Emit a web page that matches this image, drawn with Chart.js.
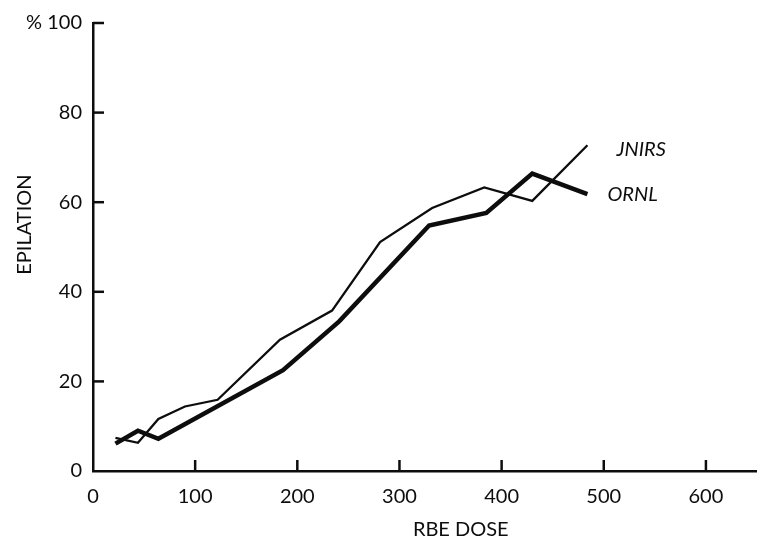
<!DOCTYPE html>
<html>
<head>
<meta charset="utf-8">
<script src="https://cdn.jsdelivr.net/npm/chart.js@4"></script>
<style>
    html, body { margin: 0; padding: 0; background: #fff; }
    #wrap { width: 757px; height: 555px; position: relative; }
</style>
</head>
<body>
<div id="wrap"><canvas id="epilationChart"></canvas></div>
<script>
// values (RBE dose vs % epilation)
const jnirsDose = [22, 44, 64, 90, 122, 183, 234, 281, 332, 383, 430, 484];
const jnirsPct  = [7.4, 6.3, 11.6, 14.4, 15.9, 29.3, 35.8, 51.1, 58.7, 63.3, 60.3, 72.7];

const ornlDose = [22, 44, 64, 186, 241, 329, 385, 430, 484];
const ornlPct  = [6.1, 9.0, 7.2, 22.5, 33.4, 54.8, 57.6, 66.4, 61.8];

const xTicks = [0, 100, 200, 300, 400, 500, 600];
const yTicks = [0, 20, 40, 60, 80, 100];

const ink = "#0d0d0d";
const fontFamily = "Lato, 'Open Sans', sans-serif";

function toPoints(xs, ys) {
    return xs.map((x, i) => ({ x: x, y: ys[i] }));
}

// tick marks point inward from the axes, like the printed figure
const innerTicks = {
    id: "innerTicks",
    afterDraw(chart) {
        const ctx = chart.ctx;
        const area = chart.chartArea;
        const xs = chart.scales.x, ys = chart.scales.y;
        ctx.save();
        ctx.strokeStyle = ink;
        ctx.lineWidth = 2.5;
        xTicks.forEach(v => {
            if (v === 0) return;
            let px = xs.getPixelForValue(v);
            ctx.beginPath();
            ctx.moveTo(px, area.bottom);
            ctx.lineTo(px, area.bottom - 11);
            ctx.stroke();
        });
        yTicks.forEach(v => {
            if (v === 0) return;
            let py = ys.getPixelForValue(v);
            ctx.beginPath();
            ctx.moveTo(area.left, py);
            ctx.lineTo(area.left + 11, py);
            ctx.stroke();
        });
        ctx.restore();
    }
};

// series names written at the end of each curve, plus axis titles
const labelOffsets = { JNIRS: [29, 4], ORNL: [20, 0] };

const textLabels = {
    id: "textLabels",
    afterDatasetsDraw(chart) {
        const ctx = chart.ctx;
        const xs = chart.scales.x, ys = chart.scales.y;
        ctx.save();
        ctx.fillStyle = ink;
        ctx.textBaseline = "middle";

        ctx.font = "italic 20px " + fontFamily;
        ctx.textAlign = "left";
        chart.data.datasets.forEach((ds, i) => {
            let pts = chart.getDatasetMeta(i).data;
            let last = pts[pts.length - 1];
            let off = labelOffsets[ds.label];
            ctx.fillText(ds.label, last.x + off[0], last.y + off[1]);
        });

        ctx.font = "20px " + fontFamily;
        ctx.textAlign = "center";
        ctx.fillText("RBE DOSE", xs.getPixelForValue(360), 530);

        ctx.translate(25, ys.getPixelForValue(55));
        ctx.rotate(-Math.PI / 2);
        ctx.fillText("EPILATION", 0, 0);
        ctx.restore();
    }
};

new Chart(document.getElementById("epilationChart"), {
    type: "line",
    data: {
        datasets: [
            {
                label: "JNIRS",
                data: toPoints(jnirsDose, jnirsPct),
                borderColor: ink,
                borderWidth: 2.3,
                pointRadius: 0,
                tension: 0,
                fill: false
            },
            {
                label: "ORNL",
                data: toPoints(ornlDose, ornlPct),
                borderColor: ink,
                borderWidth: 4.5,
                pointRadius: 0,
                tension: 0,
                fill: false
            }
        ]
    },
    options: {
        responsive: true,
        maintainAspectRatio: false,
        animation: false,
        layout: { padding: { top: 13, right: 0, bottom: 0, left: 0 } },
        plugins: {
            legend: { display: false },
            tooltip: { enabled: false }
        },
        scales: {
            x: {
                type: "linear",
                min: 0,
                max: 650,
                grid: { display: true, drawOnChartArea: false, drawTicks: false },
                border: { color: ink, width: 2.5 },
                ticks: {
                    stepSize: 100,
                    includeBounds: false,
                    color: ink,
                    padding: 14,
                    font: { family: fontFamily, size: 20 }
                },
                afterFit(s) { s.height = 84; }
            },
            y: {
                min: 0,
                max: 100,
                grid: { display: true, drawOnChartArea: false, drawTicks: false },
                border: { color: ink, width: 2.5 },
                ticks: {
                    stepSize: 20,
                    color: ink,
                    padding: 11,
                    font: { family: fontFamily, size: 20 },
                    callback: v => v === 100 ? "% 100" : v
                },
                afterFit(s) { s.width = 93; }
            }
        }
    },
    plugins: [innerTicks, textLabels]
});
</script>
</body>
</html>
